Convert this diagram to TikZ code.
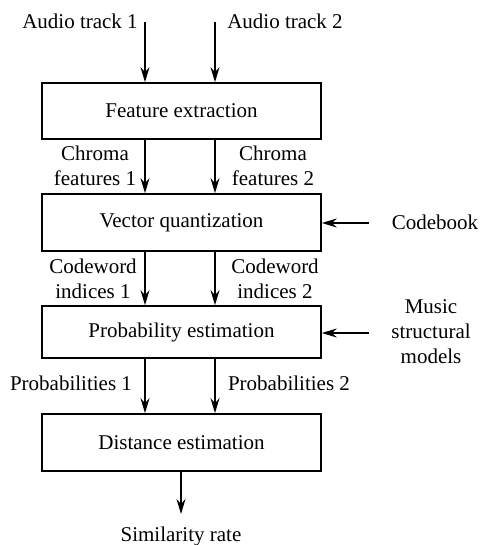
\documentclass[tikz,border=0pt]{standalone}
\usepackage{fontspec}
\setmainfont{Liberation Serif}
\usetikzlibrary{arrows.meta}
\begin{document}
\begin{tikzpicture}[x=1pt,y=-1pt,
  font=\fontsize{21}{25}\selectfont,
  blk/.style={draw,line width=1.7pt,minimum width=279pt,inner sep=0pt},
  lbl/.style={inner sep=0pt,align=center},
  arr/.style={line width=1.5pt,-{Stealth[length=15pt,width=9pt,inset=5pt]}}]
\useasboundingbox (0,0) rectangle (482,545);
\node[blk,minimum height=56pt] (fe) at (181.5,111) {Feature extraction};
\node[blk,minimum height=57pt] (vq) at (181.5,222.5) {Vector quantization};
\node[blk,minimum height=52pt] (pe) at (181.5,332) {Probability estimation};
\node[blk,minimum height=57pt] (de) at (181.5,442.5) {Distance estimation};
\coordinate (cl) at (145,0);
\coordinate (cr) at (215,0);
\coordinate (a1) at (145,22);
\coordinate (a2) at (215,22);
\node[lbl] (t1) at (80,21) {Audio track 1};
\node[lbl] (t2) at (285,21) {Audio track 2};
\node[lbl] (cf1) at (95,166) {Chroma\\features 1};
\node[lbl] (cf2) at (273,166) {Chroma\\features 2};
\node[lbl] (cw1) at (93,279) {Codeword\\indices 1};
\node[lbl] (cw2) at (275,279) {Codeword\\indices 2};
\node[lbl] (p1) at (71,383) {Probabilities 1};
\node[lbl] (p2) at (289,383) {Probabilities 2};
\node[lbl] (cb) at (435,222) {Codebook};
\node[lbl] (ms) at (431,332) {Music\\structural\\models};
\node[lbl] (sr) at (181,536) {Similarity rate};
\coordinate (cbs) at (369,223);
\coordinate (mss) at (369,333);
\coordinate (srend) at (181,514);
\draw[arr] (a1) -- (fe.north -| cl);
\draw[arr] (a2) -- (fe.north -| cr);
\draw[arr] (fe.south -| cl) -- (vq.north -| cl);
\draw[arr] (fe.south -| cr) -- (vq.north -| cr);
\draw[arr] (vq.south -| cl) -- (pe.north -| cl);
\draw[arr] (vq.south -| cr) -- (pe.north -| cr);
\draw[arr] (pe.south -| cl) -- (de.north -| cl);
\draw[arr] (pe.south -| cr) -- (de.north -| cr);
\draw[arr] (cbs) -- (vq.east |- cbs);
\draw[arr] (mss) -- (pe.east |- mss);
\draw[arr] (de.south -| srend) -- (srend);
\end{tikzpicture}
\end{document}
